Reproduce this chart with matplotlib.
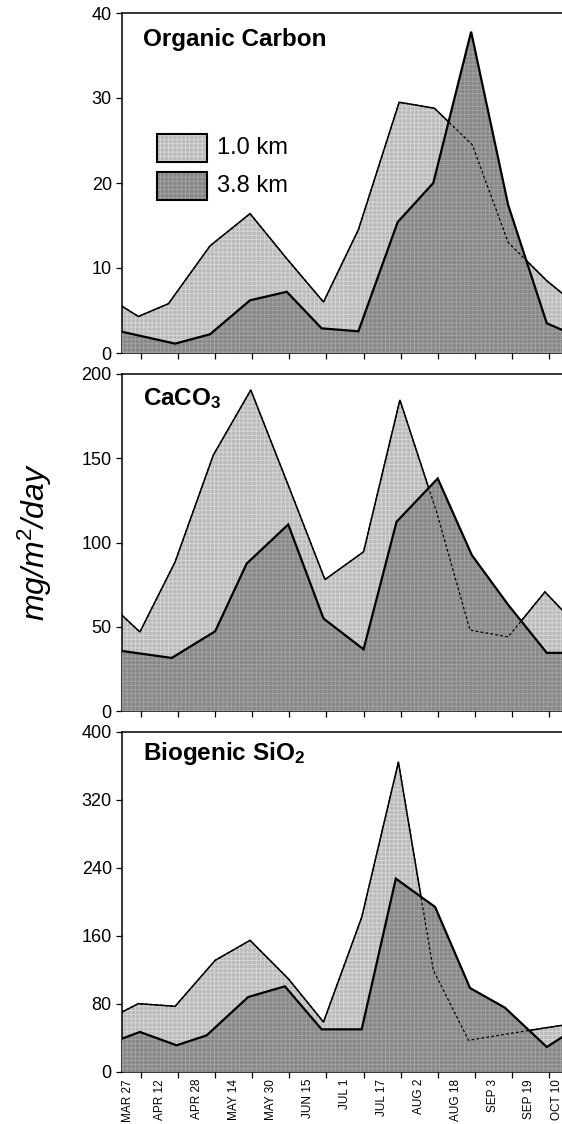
import matplotlib
matplotlib.use("Agg")
import matplotlib.pyplot as plt
from matplotlib.patches import Rectangle

plt.rcParams['font.family'] = ['Liberation Sans', 'DejaVu Sans']
plt.rcParams['mathtext.fontset'] = 'custom'
plt.rcParams['mathtext.rm'] = 'Liberation Sans'
plt.rcParams['mathtext.it'] = 'Liberation Sans:italic'
plt.rcParams['mathtext.bf'] = 'Liberation Sans:bold'
plt.rcParams['hatch.linewidth'] = 0.6

# ---- x-axis labels (sample dates) ----
date_labels = ["MAR 27", "APR 12", "APR 28", "MAY 14", "MAY 30", "JUN 15", "JUL 1",
               "JUL 17", "AUG 2", "AUG 18", "SEP 3", "SEP 19", "OCT 10"]
date_label_pos = [0.65, 1.5, 2.5, 3.5, 4.5, 5.5, 6.5, 7.5, 8.5, 9.5, 10.5, 11.45, 12.22]
tick_pos = [1, 2, 3, 4, 5, 6, 7, 8, 9, 10, 11, 12]

# ---- Organic Carbon ----
oc_1km_x = [0.488, 0.93, 1.74, 2.86, 3.94, 4.93, 5.92, 6.86, 7.96, 8.91, 9.93, 10.9, 11.94, 12.36]
oc_1km_y = [5.5, 4.3, 5.8, 12.6, 16.4, 11.1, 6.0, 14.5, 29.5, 28.8, 24.5, 13.0, 8.5, 7.0]
oc_38km_x = [0.488, 1.92, 2.86, 3.94, 4.93, 5.87, 6.86, 7.92, 8.88, 9.9, 10.9, 11.94, 12.36]
oc_38km_y = [2.5, 1.1, 2.2, 6.2, 7.2, 2.9, 2.55, 15.4, 20.0, 37.8, 17.4, 3.5, 2.7]

# ---- CaCO3 ----
ca_1km_x = [0.488, 0.97, 1.92, 2.95, 3.96, 4.97, 5.96, 7.0, 7.98, 8.97, 9.87, 10.9, 11.89, 12.36]
ca_1km_y = [56.8, 46.9, 88.5, 151.9, 190.5, 134.0, 78.0, 94.5, 184.6, 118.0, 48.0, 44.0, 70.7, 59.8]
ca_38km_x = [0.488, 1.83, 3.0, 3.85, 4.97, 5.92, 7.0, 7.89, 9.0, 9.92, 10.9, 11.94, 12.36]
ca_38km_y = [35.6, 31.5, 47.3, 87.5, 110.7, 54.9, 36.6, 112.3, 138.0, 92.5, 63.0, 34.5, 34.5]

# ---- Biogenic SiO2 ----
si_1km_x = [0.488, 0.93, 1.92, 3.0, 3.94, 4.97, 5.92, 6.95, 7.94, 8.88, 9.83, 10.81, 11.94, 12.36]
si_1km_y = [70.6, 80.4, 77.3, 131.4, 154.9, 109.8, 58.8, 182.0, 364.7, 120.0, 37.3, 44.3, 52.2, 54.9]
si_38km_x = [0.488, 0.97, 1.96, 2.77, 3.89, 4.88, 5.87, 6.95, 7.87, 8.93, 9.87, 10.81, 11.94, 12.36]
si_38km_y = [39.2, 47.1, 31.4, 43.1, 88.2, 100.8, 50.2, 50.2, 227.5, 194.1, 98.8, 75.7, 29.4, 41.2]

panels = [
    dict(title="Organic Carbon", x1=oc_1km_x, y1=oc_1km_y, x2=oc_38km_x, y2=oc_38km_y,
         ylim=40, yticks=[0, 10, 20, 30, 40], rect=[13, 353], ty=0.903),
    dict(title=r"CaCO$_{\mathbf{3}}$", x1=ca_1km_x, y1=ca_1km_y, x2=ca_38km_x, y2=ca_38km_y,
         ylim=200, yticks=[0, 50, 100, 150, 200], rect=[374, 711], ty=0.908),
    dict(title=r"Biogenic SiO$_{\mathbf{2}}$", x1=si_1km_x, y1=si_1km_y, x2=si_38km_x, y2=si_38km_y,
         ylim=400, yticks=[0, 80, 160, 240, 320, 400], rect=[732, 1072], ty=0.918),
]

W, H = 562, 1124
fig = plt.figure(figsize=(W / 100, H / 100), dpi=100)

LIGHT, LIGHT_H = '#bababa', '#d8d8d8'
DARK, DARK_H = '#878787', '#a4a4a4'
XL = (0.488, 12.35)
left_px = 122

axes = []
for i, p in enumerate(panels):
    top, bot = p['rect']
    ax = fig.add_axes([left_px / W, 1 - bot / H, (W - left_px) / W, (bot - top) / H])
    axes.append(ax)
    ax.fill_between(p['x1'], p['y1'], 0, facecolor=LIGHT, edgecolor=LIGHT_H, hatch='++++',
                    linewidth=0, zorder=1)
    ax.plot(p['x1'], p['y1'], color='black', lw=1.1, zorder=2, solid_joinstyle='miter')
    ax.fill_between(p['x2'], p['y2'], 0, facecolor=DARK, edgecolor=DARK_H, hatch='++++',
                    linewidth=0, zorder=3)
    ax.plot(p['x2'], p['y2'], color='black', lw=1.6, zorder=4, solid_joinstyle='miter')
    ax.plot(p['x1'], p['y1'], color='black', lw=0.9, ls=(0, (2.2, 1.8)), zorder=5)

    ax.set_xlim(*XL)
    ax.set_ylim(0, p['ylim'])
    ax.set_yticks(p['yticks'])
    ax.set_xticks(tick_pos)
    ax.set_xticklabels([])
    ax.tick_params(axis='both', which='major', direction='out', length=4.3, width=0.9,
                   labelsize=13, pad=3)
    for s in ['left', 'bottom', 'top']:
        ax.spines[s].set_linewidth(1.1)
    ax.spines['right'].set_visible(False)
    ax.text(0.048, p['ty'], p['title'], transform=ax.transAxes, fontsize=17.5,
            fontweight='bold', va='baseline', ha='left', zorder=10)

# bottom date labels
axb = axes[-1]
axb.set_xticks(date_label_pos, minor=True)
axb.set_xticklabels(date_labels, minor=True, rotation=90, fontsize=8.5)
axb.tick_params(axis='x', which='minor', length=0, pad=5)

# legend in top panel
ax0 = axes[0]
for (yb, fc, hc, lbl) in [(0.562, LIGHT, LIGHT_H, "1.0 km"), (0.45, DARK, DARK_H, "3.8 km")]:
    ax0.add_patch(Rectangle((0.0795, yb), 0.1136, 0.082, transform=ax0.transAxes,
                            facecolor=fc, edgecolor=hc, hatch='++++', linewidth=0, zorder=10))
    ax0.add_patch(Rectangle((0.0795, yb), 0.1136, 0.082, transform=ax0.transAxes,
                            facecolor='none', edgecolor='black', linewidth=1.5, zorder=10.5))
    ax0.text(0.216, yb + 0.041, lbl, transform=ax0.transAxes, fontsize=17, va='center',
             ha='left', zorder=11)

fig.text(35 / W, 1 - 542 / H, r"mg/m$^{2}$/day", rotation=90, ha='center', va='center',
         fontsize=23, fontstyle='italic')

fig.savefig("out.png", dpi=100)
